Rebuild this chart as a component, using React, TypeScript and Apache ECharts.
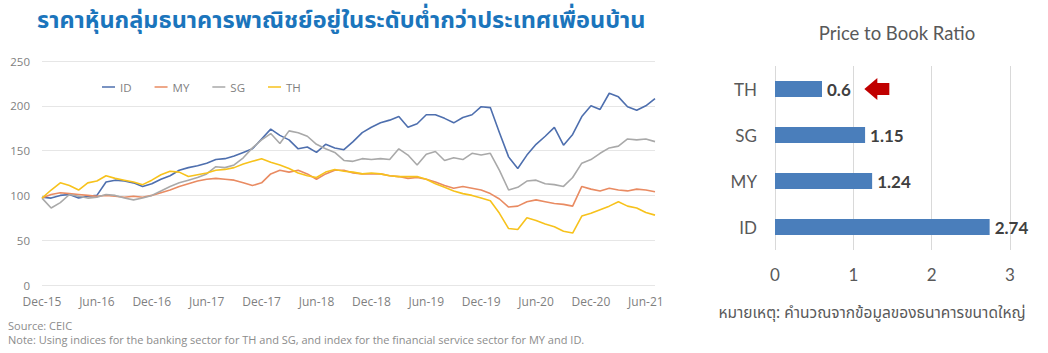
import React, { useEffect, useRef } from "react";
import * as echarts from "echarts";

// ---------- Left chart: bank share price indices (Dec-15 = 100), monthly ----------
const monthNames = ["Jan", "Feb", "Mar", "Apr", "May", "Jun", "Jul", "Aug", "Sep", "Oct", "Nov", "Dec"];
const startYear = 2015;
const startMonth = 11; // Dec
const monthCount = 68; // Dec-15 .. Jul-21
const months: string[] = [];
for (let i = 0; i < monthCount; i++) {
  const mi = (startMonth + i) % 12;
  const yr = startYear + Math.floor((startMonth + i) / 12);
  months.push(`${monthNames[mi]}-${String(yr).slice(2)}`);
}

const seriesNames = ["ID", "MY", "SG", "TH"];

const idValues = [
  98, 97, 100, 101, 97, 99, 100, 115, 117, 116, 114, 110,
  113, 118, 122, 128, 131, 133, 136, 140, 141, 144, 148, 152,
  163, 174, 167, 162, 152, 154, 148, 157, 153, 151, 160, 170,
  176, 181, 184, 188, 176, 180, 190, 190, 186, 181, 187, 190,
  199, 198, 170, 143, 130, 145, 157, 166, 176, 156, 168, 188,
  200, 196, 214, 210, 199, 195, 200, 208,
];
const myValues = [
  97, 101, 103, 102, 101, 100, 99, 100, 99, 98, 99, 98,
  100, 103, 106, 110, 113, 116, 118, 119, 118, 117, 114, 111,
  114, 124, 128, 126, 128, 124, 118, 124, 128, 128, 125, 124,
  124, 124, 122, 121, 119, 120, 118, 115, 111, 108, 110, 108,
  106, 102, 96, 87, 88, 93, 95, 93, 91, 90, 88, 110,
  107, 105, 108, 106, 105, 107, 106, 104,
];
const sgValues = [
  97, 86, 92, 101, 99, 97, 98, 101, 100, 97, 95, 97,
  100, 105, 110, 114, 117, 120, 124, 132, 131, 134, 142, 153,
  162, 169, 158, 172, 170, 166, 157, 152, 148, 139, 138, 141,
  140, 141, 140, 152, 145, 134, 146, 149, 139, 142, 140, 147,
  145, 147, 128, 106, 109, 116, 117, 113, 112, 110, 120, 136,
  140, 147, 153, 155, 163, 162, 163, 160,
];
const thValues = [
  97, 106, 114, 111, 106, 114, 116, 122, 119, 117, 115, 112,
  117, 123, 127, 126, 121, 123, 125, 128, 129, 131, 135, 138,
  141, 137, 134, 130, 125, 122, 120, 126, 129, 127, 126, 124,
  125, 124, 122, 121, 121, 121, 118, 113, 109, 105, 102, 100,
  97, 94, 80, 63, 62, 75, 72, 68, 65, 60, 58, 77,
  80, 84, 88, 93, 88, 86, 81, 78,
];
const lineColors = ["#4e6fae", "#e98b62", "#a9a9a9", "#f7c21c"];
const yTicks = { min: 0, max: 250, interval: 50 };

// ---------- Right chart: Price to Book Ratio ----------
const pbCountries = ["ID", "MY", "SG", "TH"];
const pbValues = [2.74, 1.24, 1.15, 0.6];
const pbTicks = { min: 0, max: 3, interval: 1 };

const mainTitle = "ราคาหุ้นกลุ่มธนาคารพาณิชย์อยู่ในระดับต่ำกว่าประเทศเพื่อนบ้าน";
const pbTitle = "Price to Book Ratio";
const pbNote = "หมายเหตุ: คำนวณจากข้อมูลของธนาคารขนาดใหญ่";
const sourceText = "Source: CEIC";
const noteText =
  "Note: Using indices for the banking sector for TH and SG, and index for the financial service sector for MY and ID.";

const thaiFont = '"Noto Sans Thai", "Noto Sans", Tahoma, sans-serif';
const latin = '"Open Sans", "Liberation Sans", sans-serif';
const calibriLike = 'Lato, "Open Sans", sans-serif';

export default function App() {
  const ref = useRef<HTMLDivElement>(null);

  useEffect(() => {
    document.body.style.margin = "0";
    if (!ref.current) return;
    const chart = echarts.init(ref.current, undefined, { renderer: "svg" });

    const lineData = [idValues, myValues, sgValues, thValues];
    const lastIdx = monthCount - 1;

    const lineSeries = seriesNames.map((name, i) => ({
      name,
      type: "line",
      xAxisIndex: 0,
      yAxisIndex: 0,
      symbol: "none",
      lineStyle: { color: lineColors[i], width: 1.6 },
      itemStyle: { color: lineColors[i] },
      data:
        name === "TH"
          ? lineData[i].map((v, k) =>
              k === lastIdx
                ? {
                    value: v,
                    label: {
                      show: true,
                      position: "right",
                      distance: 3,
                      color: "#595959",
                      fontSize: 11.5,
                      fontFamily: latin,
                    },
                  }
                : v
            )
          : lineData[i],
      z: 2 + i,
    }));

    chart.setOption({
      animation: false,
      backgroundColor: "#ffffff",
      legend: {
        data: seriesNames,
        left: 97,
        top: 76,
        icon: "rect",
        itemWidth: 13,
        itemHeight: 1.5,
        itemGap: 23,
        textStyle: { color: "#7f7f7f", fontSize: 11.5, fontFamily: latin },
      },
      grid: [
        { left: 42, top: 61, width: 613, height: 224 },
        { left: 775, top: 66, width: 235, height: 184 },
      ],
      xAxis: [
        {
          type: "category",
          gridIndex: 0,
          data: months,
          boundaryGap: false,
          axisLine: { show: false },
          axisTick: { show: false },
          axisLabel: {
            interval: 5,
            color: "#7f7f7f",
            fontSize: 12,
            fontFamily: latin,
            margin: 10,
          },
          splitLine: { show: false },
        },
        {
          type: "value",
          gridIndex: 1,
          ...pbTicks,
          axisLine: { show: false },
          axisTick: { show: false },
          axisLabel: {
            color: "#595959",
            fontSize: 17,
            fontFamily: calibriLike,
            margin: 16,
          },
          splitLine: { show: true, lineStyle: { color: "#d9d9d9", width: 1 } },
        },
      ],
      yAxis: [
        {
          type: "value",
          gridIndex: 0,
          ...yTicks,
          axisLine: { show: false },
          axisTick: { show: false },
          axisLabel: {
            color: "#7f7f7f",
            fontSize: 11.5,
            fontFamily: latin,
            margin: 12,
          },
          splitLine: { lineStyle: { color: "#e6e6e6", width: 1 } },
        },
        {
          type: "category",
          gridIndex: 1,
          data: pbCountries,
          axisLine: { show: false },
          axisTick: { show: false },
          axisLabel: {
            color: "#595959",
            fontSize: 17,
            fontFamily: calibriLike,
            margin: 18,
          },
          splitLine: { show: false },
        },
      ],
      series: [
        ...lineSeries,
        {
          name: "P/BV",
          type: "bar",
          xAxisIndex: 1,
          yAxisIndex: 1,
          data: pbValues,
          barWidth: 16,
          itemStyle: { color: "#4a7ebb" },
          label: {
            show: true,
            position: "right",
            distance: 5,
            color: "#404040",
            fontWeight: "bold",
            fontSize: 17,
            fontFamily: calibriLike,
          },
          markPoint: {
            symbol: "path://M0,11 L13,0 L13,5 L25,5 L25,17 L13,17 L13,22 Z",
            symbolSize: [25, 22],
            label: { show: false },
            itemStyle: { color: "#c00000" },
            data: [{ coord: [1.3, 3] }],
          },
        },
      ],
      graphic: [
        {
          type: "text",
          x: 37,
          y: 21,
          style: {
            text: mainTitle,
            fill: "#1b75bc",
            fontSize: 23.5,
            fontWeight: "bold",
            fontFamily: thaiFont,
            textVerticalAlign: "middle",
          },
        },
        {
          type: "text",
          x: 897,
          y: 33,
          style: {
            text: pbTitle,
            fill: "#595959",
            fontSize: 18.5,
            fontFamily: calibriLike,
            textAlign: "center",
            textVerticalAlign: "middle",
          },
        },
        {
          type: "text",
          x: 872,
          y: 313,
          style: {
            text: pbNote,
            fill: "#595959",
            fontSize: 15.5,
            fontFamily: thaiFont,
            textAlign: "center",
            textVerticalAlign: "middle",
          },
        },
        {
          type: "text",
          x: 8,
          y: 325,
          style: {
            text: sourceText,
            fill: "#8c8c8c",
            fontSize: 11,
            fontFamily: latin,
            textVerticalAlign: "middle",
          },
        },
        {
          type: "text",
          x: 8,
          y: 339,
          style: {
            text: noteText,
            fill: "#8c8c8c",
            fontSize: 11,
            fontFamily: latin,
            textVerticalAlign: "middle",
          },
        },
      ],
    });

    return () => chart.dispose();
  }, []);

  return <div ref={ref} style={{ width: 1048, height: 353 }} />;
}
